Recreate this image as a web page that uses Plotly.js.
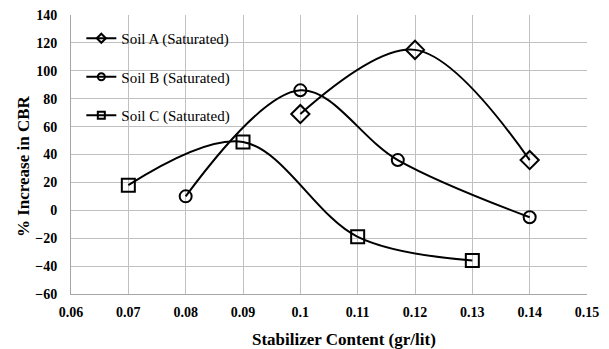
<!DOCTYPE html>
<html>
<head>
<meta charset="utf-8">
<script src="https://cdn.plot.ly/plotly-3.0.1.min.js"></script>
<style>
  html, body { margin: 0; padding: 0; background: #fff; }
  #chart { width: 609px; height: 349px; }
</style>
</head>
<body>
<div id="chart"></div>
<script>
// Stabilizer content (gr/lit) and % increase in CBR for each soil
const soilA_x = [0.10, 0.12, 0.14];
const soilA_y = [69, 115, 36];

const soilB_x = [0.08, 0.10, 0.117, 0.14];
const soilB_y = [10, 86, 36, -5];

const soilC_x = [0.07, 0.09, 0.11, 0.13];
const soilC_y = [18, 49, -19, -36];

const seriesNames = ['Soil A (Saturated)', 'Soil B (Saturated)', 'Soil C (Saturated)'];
const xTitle = 'Stabilizer Content (gr/lit)';
const yTitle = '% Increase in CBR';

const serif = 'Liberation Serif, Times New Roman, serif';

// Smoothed black line with open markers; legend entries are drawn by
// separate key traces so their symbols can be smaller than the data markers.
function series(x, y, symbol, size) {
  return {
    x: x, y: y, type: 'scatter', mode: 'lines+markers', showlegend: false,
    line: { color: '#000', width: 2, shape: 'spline', smoothing: 1 },
    marker: { symbol: symbol, size: size, color: '#000',
              line: { color: '#000', width: 2 } },
    cliponaxis: false
  };
}

function key(name, symbol, group) {
  return {
    x: [null], y: [null], name: name, type: 'scatter', mode: 'lines+markers',
    legendgroup: group, showlegend: true,
    line: { color: '#000', width: 2 },
    marker: { symbol: symbol, size: 7, color: '#000', line: { color: '#000', width: 2 } }
  };
}

const traces = [
  series(soilA_x, soilA_y, 'diamond-open', 14),
  series(soilB_x, soilB_y, 'circle-open', 12),
  series(soilC_x, soilC_y, 'square-open', 13),
  key(seriesNames[0], 'diamond-open', 'a'),
  key(seriesNames[1], 'circle-open', 'b'),
  key(seriesNames[2], 'square-open', 'c')
];

const layout = {
  width: 609, height: 349,
  margin: { l: 71, r: 22, t: 15, b: 55 },
  paper_bgcolor: '#fff', plot_bgcolor: '#fff',
  font: { family: serif, color: '#000' },
  showlegend: true,
  legend: {
    x: 0.02, y: 0.975, xanchor: 'left', yanchor: 'top',
    bgcolor: 'rgba(255,255,255,0)',
    font: { family: serif, size: 15, color: '#000' },
    traceorder: 'grouped', tracegroupgap: 16
  },
  xaxis: {
    range: [0.06, 0.15], dtick: 0.01, tick0: 0.06,
    showgrid: true, gridcolor: '#c0c0c0', gridwidth: 1,
    showline: true, linecolor: '#a6a6a6', linewidth: 1,
    zeroline: false, ticks: '', ticklabelstandoff: 5,
    tickfont: { family: serif, size: 14, color: '#000', weight: 'bold' }
  },
  yaxis: {
    range: [-60, 140], dtick: 20,
    showgrid: true, gridcolor: '#c0c0c0', gridwidth: 1,
    showline: true, linecolor: '#a6a6a6', linewidth: 1,
    zeroline: false, ticks: '', ticklabelstandoff: 10,
    tickfont: { family: serif, size: 14, color: '#000', weight: 'bold' }
  },
  annotations: [
    { text: '<b>' + xTitle + '</b>', xref: 'paper', yref: 'paper',
      x: 0.529, y: -0.163, xanchor: 'center', yanchor: 'middle', showarrow: false,
      font: { family: serif, size: 17, color: '#000' } },
    { text: '<b>' + yTitle + '</b>', xref: 'paper', yref: 'paper', textangle: -90,
      x: -0.092, y: 0.457, xanchor: 'center', yanchor: 'middle', showarrow: false,
      font: { family: serif, size: 17, color: '#000' } }
  ]
};

Plotly.newPlot('chart', traces, layout, { displayModeBar: false, staticPlot: true });
</script>
</body>
</html>
